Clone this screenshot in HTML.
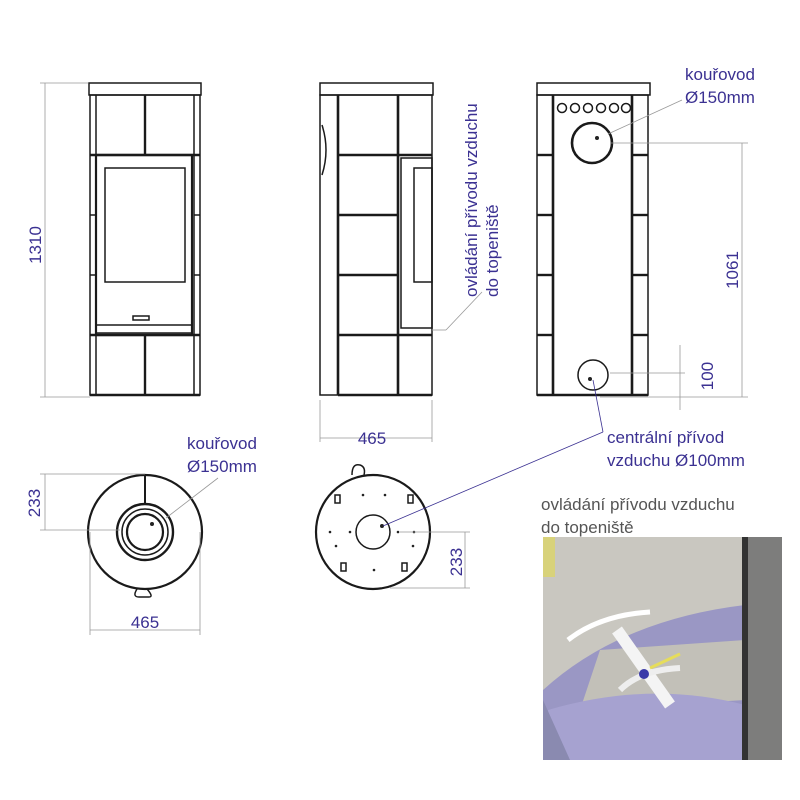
<!DOCTYPE html>
<html><head><meta charset="utf-8"><style>
html,body{margin:0;padding:0;background:#fff;width:800px;height:800px;overflow:hidden}
text{font-family:"Liberation Sans",sans-serif;fill:#3b3192;font-size:17px}
</style></head><body>
<svg width="800" height="800" viewBox="0 0 800 800" xmlns="http://www.w3.org/2000/svg">
<g fill="none" stroke="#1a1a1a" stroke-width="1.5">
<!-- FRONT VIEW -->
<rect x="89" y="83" width="112" height="12"/>
<rect x="90" y="95" width="110" height="300"/>
<line x1="96" y1="95" x2="96" y2="395"/><line x1="194" y1="95" x2="194" y2="395"/>
<line x1="145" y1="95" x2="145" y2="155" stroke-width="2.4"/>
<line x1="145" y1="335" x2="145" y2="395" stroke-width="2.4"/>
<line x1="90" y1="155" x2="200" y2="155" stroke-width="2.4"/>
<rect x="96" y="155" width="96" height="180" stroke-width="2.2"/>
<rect x="105" y="168" width="80" height="114"/>
<rect x="133" y="316" width="16" height="4"/>
<rect x="96" y="325" width="96" height="8"/>
<line x1="90" y1="335" x2="200" y2="335" stroke-width="2.4"/>
<line x1="90" y1="215" x2="96" y2="215"/><line x1="90" y1="275" x2="96" y2="275"/>
<line x1="194" y1="215" x2="200" y2="215"/><line x1="194" y1="275" x2="200" y2="275"/>
<line x1="90" y1="395" x2="200" y2="395" stroke-width="2.4"/>
<!-- SIDE VIEW -->
<rect x="320" y="83" width="113" height="12"/>
<rect x="320" y="95" width="112" height="300"/>
<line x1="338" y1="95" x2="338" y2="395" stroke-width="2.6"/>
<line x1="398" y1="95" x2="398" y2="395" stroke-width="2.6"/>
<line x1="338" y1="155" x2="432" y2="155" stroke-width="2.4"/>
<line x1="338" y1="215" x2="398" y2="215" stroke-width="2.4"/>
<line x1="338" y1="275" x2="398" y2="275" stroke-width="2.4"/>
<line x1="338" y1="335" x2="432" y2="335" stroke-width="2.4"/>
<line x1="338" y1="395" x2="432" y2="395" stroke-width="2.4"/>
<rect x="401" y="158" width="31" height="170"/>
<rect x="414" y="168" width="18" height="114"/>
<path d="M322 125 Q330 150 322 175"/>
<!-- REAR VIEW -->
<rect x="537" y="83" width="113" height="12"/>
<rect x="537" y="95" width="111" height="300"/>
<line x1="553" y1="95" x2="553" y2="395" stroke-width="2.6"/>
<line x1="632" y1="95" x2="632" y2="395" stroke-width="2.6"/>
<line x1="537" y1="155" x2="553" y2="155" stroke-width="2.4"/><line x1="632" y1="155" x2="648" y2="155" stroke-width="2.4"/>
<line x1="537" y1="215" x2="553" y2="215" stroke-width="2.4"/><line x1="632" y1="215" x2="648" y2="215" stroke-width="2.4"/>
<line x1="537" y1="275" x2="553" y2="275" stroke-width="2.4"/><line x1="632" y1="275" x2="648" y2="275" stroke-width="2.4"/>
<line x1="537" y1="335" x2="553" y2="335" stroke-width="2.4"/><line x1="632" y1="335" x2="648" y2="335" stroke-width="2.4"/>
<line x1="537" y1="395" x2="648" y2="395" stroke-width="2.4"/>
<circle cx="562" cy="108" r="4.5"/><circle cx="575" cy="108" r="4.5"/><circle cx="588" cy="108" r="4.5"/>
<circle cx="601" cy="108" r="4.5"/><circle cx="614" cy="108" r="4.5"/><circle cx="626" cy="108" r="4.5"/>
<circle cx="592" cy="143" r="20" stroke-width="2.6"/>
<circle cx="593" cy="375" r="15"/>
<!-- TOP VIEW -->
<circle cx="145" cy="532" r="57" stroke-width="2.2"/>
<line x1="145" y1="475" x2="145" y2="503" stroke-width="2"/>
<circle cx="145" cy="532" r="28" stroke-width="2.4"/>
<circle cx="145" cy="532" r="23"/>
<circle cx="145" cy="532" r="18" stroke-width="2.2"/>
<path d="M137 589 q-5 8 2 8 l10 0 q5 0 -2 -8"/>
<!-- BOTTOM VIEW -->
<circle cx="373" cy="532" r="57" stroke-width="2.2"/>
<circle cx="373" cy="532" r="17"/>
<path d="M352 475 q0 -12 8 -10 q6 2 4 10"/>
<rect x="335" y="495" width="5" height="8"/><rect x="408" y="495" width="5" height="8"/>
<rect x="341" y="563" width="5" height="8"/><rect x="402" y="563" width="5" height="8"/>
</g>
<g fill="#222">
<circle cx="363" cy="495" r="1.3"/><circle cx="385" cy="495" r="1.3"/><circle cx="330" cy="532" r="1.3"/><circle cx="350" cy="532" r="1.3"/>
<circle cx="398" cy="532" r="1.3"/><circle cx="414" cy="532" r="1.3"/><circle cx="336" cy="546" r="1.3"/><circle cx="413" cy="546" r="1.3"/>
<circle cx="374" cy="570" r="1.3"/><circle cx="382" cy="526" r="2"/><circle cx="152" cy="524" r="2"/><circle cx="597" cy="138" r="2"/><circle cx="590" cy="379" r="2"/>
</g>
<!-- dimension lines -->
<g stroke="#999" stroke-width="0.8" fill="none">
<line x1="40" y1="83" x2="88" y2="83"/><line x1="40" y1="397" x2="90" y2="397"/>
<line x1="45" y1="83" x2="45" y2="397"/>
<line x1="320" y1="400" x2="320" y2="442"/><line x1="432" y1="400" x2="432" y2="442"/><line x1="320" y1="438" x2="432" y2="438"/>
<line x1="610" y1="143" x2="748" y2="143"/><line x1="742" y1="143" x2="742" y2="397"/><line x1="600" y1="397" x2="748" y2="397"/>
<line x1="610" y1="373" x2="685" y2="373"/><line x1="680" y1="345" x2="680" y2="410"/>
<line x1="40" y1="474" x2="145" y2="474"/><line x1="40" y1="530" x2="120" y2="530"/><line x1="45" y1="474" x2="45" y2="530"/>
<line x1="90" y1="532" x2="90" y2="635"/><line x1="200" y1="532" x2="200" y2="635"/><line x1="90" y1="630" x2="200" y2="630"/>
<line x1="400" y1="532" x2="470" y2="532"/><line x1="390" y1="588" x2="470" y2="588"/><line x1="465" y1="532" x2="465" y2="588"/>
<line x1="166" y1="518" x2="218" y2="478"/><line x1="608" y1="134" x2="682" y2="100"/>
<line x1="432" y1="330" x2="446" y2="330"/><line x1="446" y1="330" x2="482" y2="292"/>
</g>
<g stroke="#3b3192" stroke-width="0.8" fill="none">
<line x1="593" y1="380" x2="603" y2="432"/><line x1="603" y1="432" x2="383" y2="526"/>
</g>
<!-- labels -->
<text transform="translate(41,245) rotate(-90)" text-anchor="middle">1310</text>
<text x="372" y="444" text-anchor="middle">465</text>
<text transform="translate(738,270) rotate(-90)" text-anchor="middle">1061</text>
<text transform="translate(713,376) rotate(-90)" text-anchor="middle">100</text>
<text x="685" y="80">kouřovod</text><text x="685" y="103">Ø150mm</text>
<text x="607" y="443">centrální přívod</text><text x="607" y="466">vzduchu Ø100mm</text>
<text x="187" y="449">kouřovod</text><text x="187" y="472">Ø150mm</text>
<text transform="translate(40,503) rotate(-90)" text-anchor="middle">233</text>
<text x="145" y="628" text-anchor="middle">465</text>
<text transform="translate(462,562) rotate(-90)" text-anchor="middle">233</text>
<text transform="translate(477,297) rotate(-90)">ovládání přívodu vzduchu</text>
<text transform="translate(498,297) rotate(-90)">do topeniště</text>
<text x="541" y="510" style="fill:#555">ovládání přívodu vzduchu</text>
<text x="541" y="533" style="fill:#555">do topeniště</text>
<!-- photo -->
<g>
<rect x="543" y="537" width="239" height="223" fill="#c9c7c0"/>
<rect x="543" y="537" width="12" height="40" fill="#d8d27a"/>
<path d="M543 690 Q620 620 745 605 L745 760 L543 760 Z" fill="#9a97c4"/>
<path d="M600 650 L745 640 L745 700 L580 710 Z" fill="#c2c0b8"/>
<path d="M548 710 Q650 680 745 705 L745 760 L548 760 Z" fill="#a6a2d0"/>
<path d="M543 700 L543 760 L570 760 Z" fill="#8a8ab0"/>
<rect x="748" y="537" width="34" height="223" fill="#7d7d7c"/>
<rect x="742" y="537" width="6" height="223" fill="#333"/>
<path d="M568 640 Q600 615 650 612" stroke="#fff" stroke-width="5" fill="none"/>
<path d="M617 630 L670 705" stroke="#f4f4f4" stroke-width="12" fill="none"/>
<path d="M650 668 L680 654" stroke="#e6dd5a" stroke-width="3"/>
<path d="M620 690 Q640 670 680 668" stroke="#eee" stroke-width="6" fill="none"/>
<circle cx="644" cy="674" r="5" fill="#3a3aa8"/>
</g>
</svg>
</body></html>
